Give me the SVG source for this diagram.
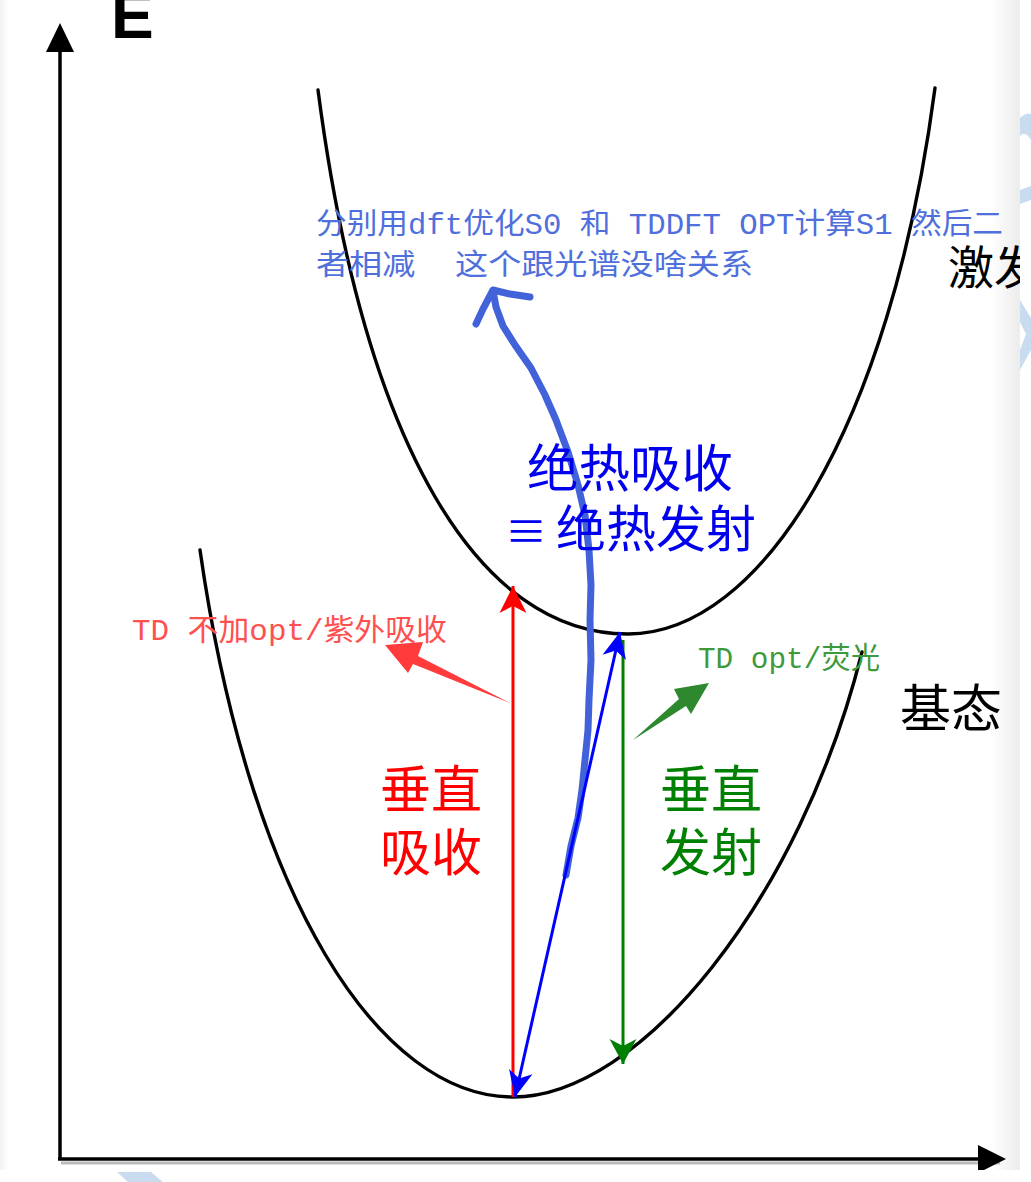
<svg xmlns="http://www.w3.org/2000/svg" width="1031" height="1182" viewBox="0 0 1031 1182">
<defs>
<style>
.curve{fill:none;stroke:#000;stroke-width:3.4;stroke-linecap:round}
.axis{fill:none;stroke:#000;stroke-width:3.5}
.cn{font-family:"Noto Sans CJK SC","Liberation Serif",serif}
.mix{font-family:"Liberation Mono","Noto Sans CJK SC",monospace}
.thin{fill:none;stroke-width:3}
</style>
<linearGradient id="gr" x1="0" y1="0" x2="1" y2="0">
<stop offset="0" stop-color="#fff"/><stop offset="1" stop-color="#ececec"/>
</linearGradient>
<linearGradient id="gl" x1="0" y1="0" x2="1" y2="0">
<stop offset="0" stop-color="#f2f2f2"/><stop offset="1" stop-color="#fff"/>
</linearGradient>
<marker id="mr" viewBox="-28 -15 30 30" markerWidth="30" markerHeight="30" refX="0" refY="0" orient="auto" markerUnits="userSpaceOnUse"><path d="M0,0 L-27,-13.5 L-20,0 L-27,13.5 Z" fill="#ff0000"/></marker>
<marker id="mb" viewBox="-28 -15 30 30" markerWidth="30" markerHeight="30" refX="0" refY="0" orient="auto-start-reverse" markerUnits="userSpaceOnUse"><path d="M0,0 L-26,-12 L-19,0 L-26,12 Z" fill="#0000ff"/></marker>
<marker id="mg" viewBox="-28 -15 30 30" markerWidth="30" markerHeight="30" refX="0" refY="0" orient="auto" markerUnits="userSpaceOnUse"><path d="M0,0 L-25,-13.5 L-18,0 L-25,13.5 Z" fill="#008000"/></marker>
</defs>
<rect width="1031" height="1182" fill="#fff"/>
<rect x="0" y="0" width="8" height="1170" fill="url(#gl)"/>
<rect x="990" y="0" width="30" height="1170" fill="url(#gr)"/>

<g id="axes">
<line x1="61" y1="1163" x2="1000" y2="1163" stroke="#bbb" stroke-width="3"/>
<line class="axis" x1="60" y1="1160" x2="60" y2="50"/>
<polygon points="60,23 46,52 74,52" fill="#000"/>
<line class="axis" x1="58" y1="1159" x2="982" y2="1159"/>
<polygon points="1006,1159 978,1145 978,1173" fill="#000"/>
<text id="E" x="111" y="38" font-family="Liberation Sans, Arial, sans-serif" font-weight="bold" font-size="64" fill="#000">E</text>
</g>

<g id="excited-curve"><path class="curve" d="M318,90 C365,450 480,634 628,634 C760,634 890,430 935,88"/></g>
<g id="ground-curve"><path class="curve" d="M200,550 C250,900 380,1097 513,1097 C640,1097 800,900 862,652"/></g>

<g id="connectors">
<line class="thin" x1="513" y1="1097" x2="513" y2="586" stroke="#ff0000" marker-end="url(#mr)"/>
<line class="thin" x1="623" y1="640" x2="623" y2="1064" stroke="#008000" marker-end="url(#mg)"/>
<path d="M566,875 L571,846 L578,818 L582,790 L585,760 L588,730 L589,700 L591,660 L590,620 L591,585 L589,550 L585,515 L578,485 L568,452 L556,420 L545,395 L531,368 L515,345 L503,326 L496,307 L493,291" fill="none" stroke="#4262d9" stroke-width="7" stroke-linecap="round" stroke-linejoin="round"/>
<path d="M476,324 L483,309 L493,290 L510,294 L530,297" fill="none" stroke="#4262d9" stroke-width="7" stroke-linecap="round" stroke-linejoin="round"/>
<line class="thin" x1="515" y1="1097" x2="620" y2="632" stroke="#0000ff" marker-start="url(#mb)" marker-end="url(#mb)"/>
<polygon points="510,703 418,656 423,642 385,645 408,673 413,664" fill="#ff3b3b"/>
<polygon points="633,740 679,699 674,689 709,683 691,714 686,706" fill="#2e882e"/>
</g>

<g id="note-blue">
<text class="mix" x="316" y="234" font-size="29" fill="#4f6fdc" textLength="687" lengthAdjust="spacingAndGlyphs">分别用dft优化S0 和 TDDFT OPT计算S1 然后二</text>
<text class="mix" x="316" y="275" font-size="29" fill="#4f6fdc" textLength="437" lengthAdjust="spacingAndGlyphs" xml:space="preserve">者相减  这个跟光谱没啥关系</text>
</g>
<g id="label-adiabatic">
<text class="cn" font-size="51.5" fill="#0000ee"><tspan x="527" y="487">绝热吸收</tspan><tspan x="505" y="547" font-size="42">≡</tspan><tspan x="556" y="547" font-size="50">绝热发射</tspan></text>
</g>
<g id="label-td-uv"><text class="mix" x="132" y="640" font-size="30" fill="#ff5050" textLength="315" lengthAdjust="spacingAndGlyphs">TD 不加opt/紫外吸收</text></g>
<g id="label-td-fl"><text class="mix" x="698" y="668" font-size="30" fill="#3c9a3c" textLength="182" lengthAdjust="spacingAndGlyphs">TD opt/荧光</text></g>
<g id="label-vabs">
<text class="cn" font-size="51" fill="#ff0000"><tspan x="380" y="808">垂直</tspan><tspan x="380" y="871">吸收</tspan></text>
</g>
<g id="label-vem">
<text class="cn" font-size="51" fill="#008000"><tspan x="660" y="808">垂直</tspan><tspan x="660" y="871">发射</tspan></text>
</g>
<g id="label-ground"><text class="cn" x="900" y="727" font-size="51" fill="#000">基态</text></g>
<g id="label-excited"><text class="cn" x="948" y="284" font-size="46" fill="#000">激发</text></g>

<g id="edge">
<rect x="1020" y="0" width="11" height="1182" fill="#fff"/>
<rect x="0" y="1170" width="1031" height="12" fill="#fff"/>
<path d="M1020,118 Q1026,112 1031,114 L1031,140 Q1025,130 1020,136 Z" fill="#c9dcef"/>
<path d="M1020,190 L1031,186 L1031,200 L1020,204 Z" fill="#c9dcef"/>
<path d="M1020,300 L1031,318 L1031,350 L1020,370 L1020,350 L1026,334 L1020,322 Z" fill="#c9dcef"/>
<path d="M117,1172 L151,1172 L163,1182 L128,1182 Z" fill="#c9dcef"/>
</g>
</svg>
